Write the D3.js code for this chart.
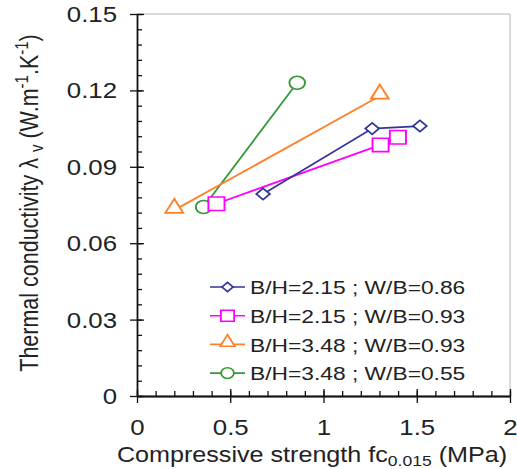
<!DOCTYPE html>
<html>
<head>
<meta charset="utf-8">
<script src="https://cdn.jsdelivr.net/npm/d3@7"></script>
<style>
  body { margin: 0; background: #fff; }
  svg { display: block; font-family: "Liberation Sans", Arial, sans-serif; }
  .axis path, .axis line { stroke: #111; stroke-width: 1.3; }
  .axis text { fill: #222; font-size: 21.5px; font-family: "Liberation Sans", Arial, sans-serif; }
</style>
</head>
<body>
<div id="chart"></div>
<script>
// series
const seriesNames = ["B/H=2.15 ; W/B=0.86", "B/H=2.15 ; W/B=0.93", "B/H=3.48 ; W/B=0.93", "B/H=3.48 ; W/B=0.55"];
const blueX = [0.676, 1.261, 1.517];
const blueY = [0.0793, 0.1050, 0.1060];
const magentaX = [0.426, 1.306, 1.399];
const magentaY = [0.0755, 0.0986, 0.1016];
const orangeX = [0.200, 1.302];
const orangeY = [0.0730, 0.1178];
const greenX = [0.357, 0.859];
const greenY = [0.0742, 0.1230];

const xTicks = [0, 0.5, 1, 1.5, 2];
const yTicks = [0, 0.03, 0.06, 0.09, 0.12, 0.15];
const xMinor = d3.range(0, 2.0001, 0.1);
const yMinor = d3.range(0, 0.15001, 0.006);

const width = 517, height = 469;
const margin = {top: 14, left: 137, right: 7, bottom: 73};
const sx = 1.2;   // the picture is stretched sideways

const svg = d3.select("#chart").append("svg")
    .attr("width", width)
    .attr("height", height);

const xScale = d3.scaleLinear().domain([0, 2]).range([margin.left, width - margin.right]);
const yScale = d3.scaleLinear().domain([0, 0.15]).range([height - margin.bottom, margin.top]);

const series = [
    {name: seriesNames[0], color: "#333399", shape: "diamond", x: blueX, y: blueY},
    {name: seriesNames[1], color: "#ff00ff", shape: "square", x: magentaX, y: magentaY},
    {name: seriesNames[2], color: "#ff7f2a", shape: "triangle", x: orangeX, y: orangeY},
    {name: seriesNames[3], color: "#339933", shape: "circle", x: greenX, y: greenY}
];

function marker(g, shape, k) {
    k = k || 1;
    if (shape === "diamond") {
        return g.append("path").attr("d", d3.symbol(d3.symbolSquare, 64 * k * k)())
            .attr("transform", `scale(${sx},1) rotate(45)`);
    }
    if (shape === "square") {
        return g.append("path").attr("d", d3.symbol(d3.symbolSquare, 180 * k * k)())
            .attr("transform", `scale(${sx},1)`);
    }
    if (shape === "triangle") {
        return g.append("path").attr("d", d3.symbol(d3.symbolTriangle, 95 * k * k)())
            .attr("transform", `translate(0,-2) scale(${sx},1.1)`);
    }
    return g.append("path").attr("d", d3.symbol(d3.symbolCircle, 133 * k * k)())
        .attr("transform", `scale(${sx},1)`);
}

/*
FRAME
*/
svg.append("line")
    .attr("x1", xScale(0)).attr("x2", xScale(2))
    .attr("y1", yScale(0.15)).attr("y2", yScale(0.15))
    .attr("stroke", "#cfcfcf").attr("stroke-width", 1.5);
svg.append("line")
    .attr("x1", xScale(2)).attr("x2", xScale(2))
    .attr("y1", yScale(0.15)).attr("y2", yScale(0))
    .attr("stroke", "#cfcfcf").attr("stroke-width", 1.5);

/*
AXES
*/
// minor ticks, inward
svg.append("g").attr("class", "axis")
    .attr("transform", `translate(0,${yScale(0)})`)
    .call(d3.axisBottom(xScale).tickValues(xMinor).tickSize(-5).tickSizeOuter(0).tickFormat(""));
svg.append("g").attr("class", "axis")
    .attr("transform", `translate(${xScale(0)},0)`)
    .call(d3.axisLeft(yScale).tickValues(yMinor).tickSize(-5).tickSizeOuter(0).tickFormat(""));

// major ticks cross the axis line
svg.append("g").attr("class", "axis")
    .attr("transform", `translate(0,${yScale(0)})`)
    .call(d3.axisBottom(xScale).tickValues(xTicks).tickSize(-7).tickSizeOuter(0).tickFormat(""));
svg.append("g").attr("class", "axis")
    .attr("transform", `translate(${xScale(0)},0)`)
    .call(d3.axisLeft(yScale).tickValues(yTicks).tickSize(-7).tickSizeOuter(0).tickFormat(""));

const xAxis = svg.append("g").attr("class", "axis")
    .attr("transform", `translate(0,${yScale(0)})`)
    .call(d3.axisBottom(xScale).tickValues(xTicks).tickSize(7).tickSizeOuter(0).tickFormat(d3.format("")));
xAxis.selectAll("text")
    .attr("y", null).attr("dy", null)
    .attr("transform", `translate(0,39) scale(${sx},1)`);

const yAxis = svg.append("g").attr("class", "axis")
    .attr("transform", `translate(${xScale(0)},0)`)
    .call(d3.axisLeft(yScale).tickValues(yTicks).tickSize(7).tickSizeOuter(0)
        .tickFormat(function(d) { return d === 0 ? "0" : d.toFixed(2); }));
yAxis.selectAll("text")
    .attr("x", null).attr("dy", "0.35em")
    .attr("transform", `translate(-20,0) scale(${sx},1)`);

/*
AXIS LABELS
*/
const xLabel = svg.append("text")
    .attr("transform", `translate(312,462) scale(1.17,1)`)
    .attr("text-anchor", "middle")
    .attr("fill", "#222")
    .attr("font-size", 21.5);
xLabel.append("tspan").text("Compressive strength fc");
xLabel.append("tspan").attr("font-size", 15).attr("dy", 4).text("0.015");
xLabel.append("tspan").attr("dy", -4).text(" (MPa)");

const yLabel = svg.append("text")
    .attr("transform", `translate(38,203) scale(${sx},1) rotate(-90)`)
    .attr("text-anchor", "middle")
    .attr("fill", "#222")
    .attr("font-size", 21.5);
yLabel.append("tspan").text("Thermal conductivity λ ");
yLabel.append("tspan").attr("font-size", 15).attr("dy", 4).text("v");
yLabel.append("tspan").attr("dy", -4).text(" (W.m");
yLabel.append("tspan").attr("font-size", 15).attr("dy", -8).text("-1");
yLabel.append("tspan").attr("dy", 8).text(".K");
yLabel.append("tspan").attr("font-size", 15).attr("dy", -8).text("-1");
yLabel.append("tspan").attr("dy", 8).text(")");

/*
LINES + POINTS
*/
const line = d3.line()
    .x(function(d) { return xScale(d[0]); })
    .y(function(d) { return yScale(d[1]); });

series.slice().reverse().forEach(function(s) {
    const pts = s.x.map(function(v, i) { return [v, s.y[i]]; });
    svg.append("path")
        .datum(pts)
        .attr("d", line)
        .attr("fill", "none")
        .attr("stroke", s.color)
        .attr("stroke-width", 1.8);
});

series.slice().reverse().forEach(function(s) {
    s.x.forEach(function(v, i) {
        const g = svg.append("g")
            .attr("transform", `translate(${xScale(v)},${yScale(s.y[i])})`);
        marker(g, s.shape)
            .attr("fill", "#fff")
            .attr("stroke", s.color)
            .attr("stroke-width", 1.6);
    });
});

/*
LEGEND
*/
const legendTop = 287;
const legendSpacing = 28.7;

series.forEach(function(s, i) {
    const y = legendTop + i * legendSpacing;
    svg.append("line")
        .attr("x1", 210).attr("x2", 245)
        .attr("y1", y).attr("y2", y)
        .attr("stroke", s.color).attr("stroke-width", 1.6);
    const g = svg.append("g").attr("transform", `translate(227.5,${y})`);
    marker(g, s.shape, 0.82)
        .attr("fill", "#fff")
        .attr("stroke", s.color)
        .attr("stroke-width", 1.5);
    svg.append("text")
        .attr("transform", `translate(250,${y}) scale(${sx},1)`)
        .attr("dy", "0.38em")
        .attr("fill", "#222")
        .attr("font-size", 19)
        .text(s.name);
});
</script>
</body>
</html>
